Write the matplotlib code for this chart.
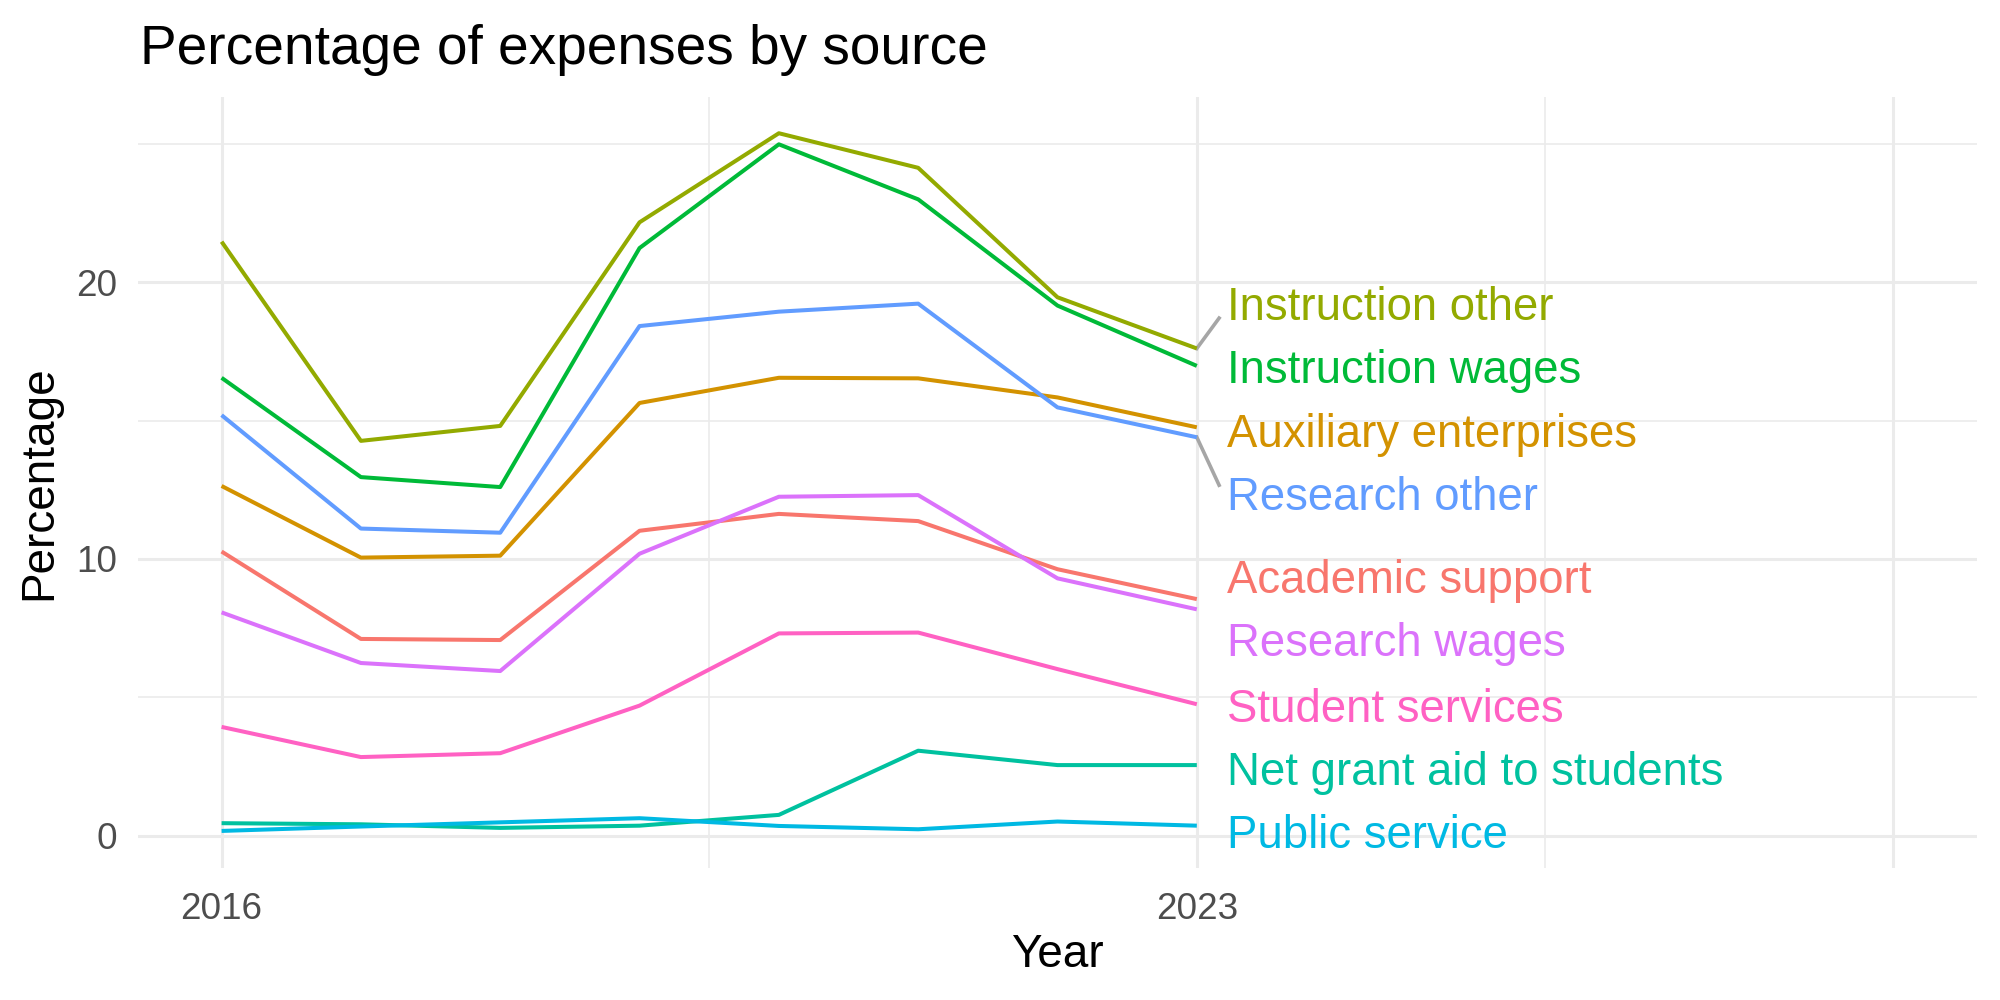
import numpy as np
import matplotlib
matplotlib.use('Agg')
import matplotlib.pyplot as plt

plt.rcParams['font.family'] = ['Liberation Sans', 'DejaVu Sans']

years = [2016, 2017, 2018, 2019, 2020, 2021, 2022, 2023]

academic_support      = [10.27, 7.11, 7.07, 11.02, 11.63, 11.37, 9.63, 8.55]
auxiliary_enterprises = [12.64, 10.05, 10.12, 15.64, 16.55, 16.53, 15.84, 14.76]
instruction_other     = [21.47, 14.27, 14.81, 22.17, 25.39, 24.14, 19.46, 17.61]
instruction_wages     = [16.55, 12.96, 12.60, 21.24, 24.99, 23.00, 19.16, 16.98]
net_grant_aid         = [0.45, 0.41, 0.28, 0.36, 0.75, 3.07, 2.55, 2.55]
public_service        = [0.17, 0.33, 0.48, 0.63, 0.35, 0.23, 0.51, 0.36]
research_other        = [15.20, 11.10, 10.95, 18.42, 18.94, 19.23, 15.48, 14.40]
research_wages        = [8.07, 6.24, 5.95, 10.19, 12.25, 12.31, 9.30, 8.18]
student_services      = [3.93, 2.84, 2.98, 4.70, 7.31, 7.34, 6.02, 4.75]

sources = ['Academic support', 'Auxiliary enterprises', 'Instruction other',
           'Instruction wages', 'Net grant aid to students', 'Public service',
           'Research other', 'Research wages', 'Student services']
series = [academic_support, auxiliary_enterprises, instruction_other,
          instruction_wages, net_grant_aid, public_service,
          research_other, research_wages, student_services]
colors = ['#F8766D', '#D39200', '#93AA00', '#00BA38', '#00C19F',
          '#00B9E3', '#619CFF', '#DB72FB', '#FF61C3']


def spread_labels(values, gap, n_iter=500):
    # push label positions apart until they are at least `gap` apart
    pos = np.array(values, dtype=float)
    order = np.argsort(pos)
    for _ in range(n_iter):
        moved = False
        for a, b in zip(order[:-1], order[1:]):
            d = pos[b] - pos[a]
            if d < gap - 1e-9:
                shift = (gap - d) / 2
                pos[a] -= shift
                pos[b] += shift
                moved = True
        if not moved:
            break
    return pos


fig, ax = plt.subplots(figsize=(10, 5), dpi=200)
fig.subplots_adjust(left=0.069, right=0.9885, top=0.903, bottom=0.132)

for name, vals, col in zip(sources, series, colors):
    ax.plot(years, vals, color=col, lw=1.45, solid_capstyle='butt', zorder=3)

end_vals = [s[-1] for s in series]
label_y = spread_labels(end_vals, 2.28)
x_end = years[-1]
for name, yv, ly, col in zip(sources, end_vals, label_y, colors):
    # connector only for labels pushed far from their line end
    if abs(ly - yv) > 1.2:
        seg_y = ly - 0.65 if ly > yv else ly + 0.15
        ax.plot([x_end, x_end + 0.16], [yv, seg_y], color='#A6A6A6', lw=1.3, zorder=2)
    ax.text(x_end + 0.22, ly - 0.3, name, color=col, fontsize=16.4,
            ha='left', va='center')

ax.set_xlim(2015.4, 2028.6)
ax.set_ylim(-1.17, 26.7)
ax.set_xticks([2016, 2023, 2028])
ax.set_xticklabels(['2016', '2023', ''])
ax.set_xticks([2019.5, 2025.5], minor=True)
ax.set_yticks([0, 10, 20])
ax.set_yticks([5, 15, 25], minor=True)

ax.grid(True, which='major', color='#EBEBEB', lw=1.1)
ax.grid(True, which='minor', color='#EBEBEB', lw=0.6)
ax.set_axisbelow(True)
for sp in ax.spines.values():
    sp.set_visible(False)
ax.tick_params(which='both', length=0)
ax.tick_params(axis='x', pad=8.5, labelsize=13.3, labelcolor='#4D4D4D')
ax.tick_params(axis='y', pad=7.5, labelsize=13.3, labelcolor='#4D4D4D')

ax.set_xlabel('Year', fontsize=16.5)
ax.xaxis.set_label_coords(0.5, -0.084)
ax.set_ylabel('Percentage', fontsize=16.5)
ax.yaxis.set_label_coords(-0.042, 0.5)

fig.text(0.07, 0.936, 'Percentage of expenses by source', fontsize=19.8,
         ha='left', va='baseline')

fig.savefig('out.png', dpi=200, facecolor='white')
